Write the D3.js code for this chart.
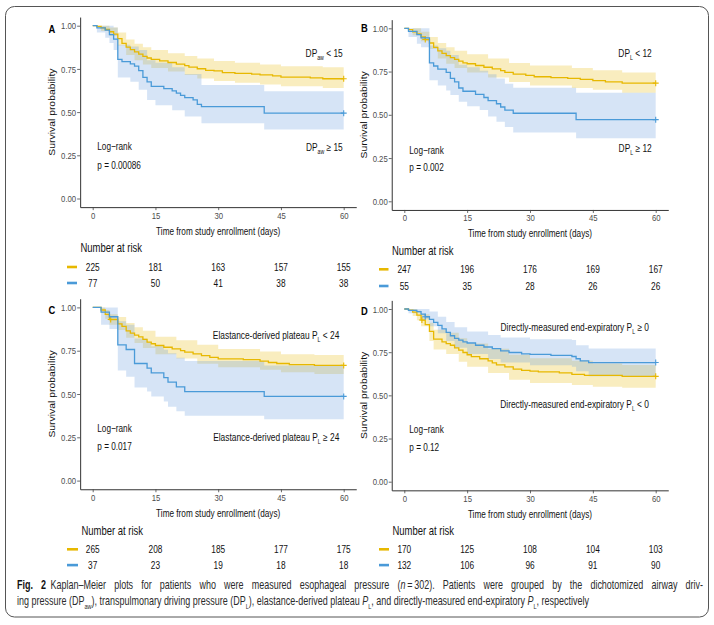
<!DOCTYPE html>
<html><head><meta charset="utf-8">
<script src="https://cdn.jsdelivr.net/npm/d3@7"></script>
<style>body{margin:0;background:#fff} svg{display:block} text{white-space:pre}</style>
</head><body>
<svg id="c" width="714" height="625"></svg>
<script>
// ---------------- DATA ----------------
const timeTicks = [0, 15, 30, 45, 60];
const survTicks = [0, 0.25, 0.5, 0.75, 1];
const survTickLabels = ["0.00", "0.25", "0.50", "0.75", "1.00"];

// Panel A : DPaw < 15 (yellow) / DPaw >= 15 (blue)
const survA1 = [[0,1],[1,0.996],[2,0.987],[3,0.978],[4,0.965],[5,0.951],[6,0.925],[7,0.898],[8,0.876],[9,0.862],[10,0.849],[11,0.836],[12,0.822],[13,0.813],[14,0.805],[16,0.796],[18,0.787],[20,0.778],[22,0.769],[23,0.76],[25,0.751],[27,0.742],[29,0.738],[31,0.729],[34,0.724],[38,0.72],[40,0.715],[43,0.71],[45,0.702],[52,0.698],[55,0.693],[60,0.693]];
const ciA1 = [[0,1,1],[2,0.97,1],[4,0.94,0.99],[6,0.885,0.96],[8,0.83,0.92],[10,0.80,0.895],[12,0.775,0.875],[14,0.755,0.86],[18,0.735,0.84],[22,0.715,0.825],[25,0.695,0.81],[29,0.68,0.795],[34,0.67,0.785],[40,0.66,0.775],[45,0.65,0.765],[55,0.64,0.76],[60,0.64,0.76]];
const survA2 = [[0,1],[1,0.987],[3,0.974],[4,0.948],[5,0.922],[6,0.805],[7,0.792],[9,0.779],[10,0.766],[11,0.74],[12,0.701],[13,0.675],[14,0.649],[17,0.636],[19,0.623],[20,0.61],[21,0.597],[22,0.584],[24,0.571],[25,0.545],[26,0.532],[41,0.494],[60,0.494]];
const ciA2 = [[0,1,1],[1,0.96,1],[3,0.93,1],[4,0.90,1],[5,0.86,0.99],[6,0.70,0.89],[9,0.675,0.88],[11,0.63,0.86],[13,0.57,0.80],[15,0.54,0.785],[19,0.51,0.76],[22,0.475,0.72],[26,0.435,0.657],[41,0.40,0.62],[60,0.40,0.62]];
const censorA1 = [60], censorA2 = [60];
const riskA1 = [225, 181, 163, 157, 155];
const riskA2 = [77, 50, 41, 38, 38];

// Panel B : DPL < 12 / DPL >= 12
const survB1 = [[0,1],[1,0.992],[2,0.98],[3,0.968],[4,0.951],[5,0.935],[6,0.915],[7,0.89],[8,0.87],[9,0.855],[10,0.842],[11,0.83],[12,0.82],[13,0.81],[14,0.80],[15,0.795],[17,0.785],[19,0.775],[21,0.765],[23,0.755],[24,0.745],[26,0.735],[29,0.728],[31,0.72],[35,0.715],[39,0.71],[42,0.705],[45,0.698],[48,0.69],[52,0.683],[60,0.683]];
const ciB1 = [[0,1,1],[2,0.96,1],[4,0.925,0.98],[6,0.88,0.95],[8,0.825,0.915],[10,0.795,0.89],[12,0.77,0.87],[15,0.745,0.85],[20,0.715,0.825],[25,0.69,0.80],[30,0.67,0.785],[40,0.655,0.77],[45,0.645,0.757],[52,0.628,0.745],[60,0.628,0.745]];
const survB2 = [[0,1],[1,0.982],[3,0.964],[4,0.945],[6,0.80],[7,0.782],[8,0.764],[10,0.745],[11,0.71],[12,0.69],[13,0.655],[14,0.636],[17,0.618],[19,0.60],[20,0.582],[22,0.564],[23,0.545],[24,0.527],[26,0.509],[41,0.472],[60,0.472]];
const ciB2 = [[0,1,1],[1,0.95,1],[3,0.91,1],[4,0.89,1],[6,0.70,0.90],[8,0.67,0.885],[10,0.64,0.87],[11,0.615,0.845],[13,0.576,0.79],[15,0.55,0.775],[18,0.528,0.755],[20,0.49,0.735],[22,0.46,0.71],[24,0.43,0.68],[26,0.397,0.657],[41,0.364,0.628],[60,0.364,0.628]];
const censorB1 = [5, 60], censorB2 = [60];
const riskB1 = [247, 196, 176, 169, 167];
const riskB2 = [55, 35, 28, 26, 26];

// Panel C : Elastance-derived plateau PL < 24 / >= 24
const survC1 = [[0,1],[2,0.985],[3,0.96],[4,0.93],[6,0.905],[7,0.89],[8,0.865],[9,0.852],[10,0.84],[11,0.83],[12,0.815],[13,0.80],[14,0.79],[15,0.78],[17,0.77],[19,0.76],[21,0.75],[22,0.742],[24,0.732],[26,0.722],[28,0.712],[30,0.703],[36,0.698],[40,0.69],[42,0.682],[44,0.676],[47,0.67],[53,0.665],[60,0.665]];
const ciC1 = [[0,1,1],[2,0.97,1],[3,0.935,0.985],[4,0.90,0.96],[6,0.87,0.945],[8,0.825,0.91],[10,0.795,0.885],[12,0.765,0.865],[15,0.73,0.83],[20,0.705,0.81],[25,0.675,0.785],[30,0.655,0.76],[40,0.64,0.745],[45,0.625,0.73],[53,0.615,0.725],[60,0.615,0.725]];
const survC2 = [[0,1],[2,0.973],[4,0.946],[6,0.784],[8,0.757],[10,0.676],[13,0.649],[14,0.622],[17,0.595],[18,0.568],[20,0.541],[22,0.514],[41,0.486],[60,0.486]];
const ciC2 = [[0,1,1],[2,0.90,1],[4,0.875,1],[6,0.635,0.92],[8,0.60,0.90],[10,0.538,0.82],[13,0.515,0.80],[14,0.485,0.775],[17,0.456,0.755],[18,0.427,0.735],[20,0.40,0.71],[22,0.375,0.69],[41,0.354,0.665],[60,0.354,0.665]];
const censorC1 = [4.3, 60], censorC2 = [60];
const riskC1 = [265, 208, 185, 177, 175];
const riskC2 = [37, 23, 19, 18, 18];

// Panel D : directly-measured end-expiratory PL < 0 (yellow) / >= 0 (blue)
const survD1 = [[0,1],[1,0.994],[2,0.982],[3,0.965],[4,0.936],[5,0.91],[6,0.87],[7,0.825],[9,0.81],[10,0.80],[11,0.79],[12,0.775],[13,0.762],[14,0.748],[15,0.735],[16,0.724],[18,0.712],[20,0.70],[21,0.688],[22,0.676],[24,0.665],[26,0.652],[28,0.645],[30,0.64],[32,0.636],[37,0.63],[40,0.622],[43,0.616],[52,0.61],[60,0.61]];
const ciD1 = [[0,1,1],[2,0.96,1],[3,0.935,0.99],[4,0.90,0.97],[6,0.815,0.92],[7,0.765,0.88],[10,0.74,0.862],[13,0.695,0.83],[15,0.665,0.80],[20,0.63,0.77],[25,0.59,0.735],[30,0.572,0.715],[40,0.56,0.70],[45,0.55,0.685],[52,0.544,0.676],[60,0.544,0.676]];
const survD2 = [[0,1],[1,0.992],[3,0.985],[4,0.97],[5,0.955],[6,0.94],[7,0.922],[8,0.905],[9,0.885],[10,0.865],[11,0.845],[12,0.83],[13,0.82],[14,0.81],[15,0.803],[17,0.79],[19,0.78],[21,0.77],[23,0.757],[25,0.748],[28,0.74],[30,0.737],[35,0.732],[40,0.725],[41,0.712],[42,0.70],[44,0.69],[60,0.69]];
const ciD2 = [[0,1,1],[1,0.975,1],[4,0.94,1],[6,0.90,0.985],[8,0.86,0.955],[10,0.815,0.925],[12,0.775,0.895],[15,0.74,0.87],[20,0.71,0.85],[23,0.69,0.835],[30,0.675,0.825],[40,0.665,0.82],[41,0.64,0.79],[44,0.61,0.772],[60,0.61,0.772]];
const censorD1 = [4.2, 60], censorD2 = [5, 60];
const riskD1 = [170, 125, 108, 104, 103];
const riskD2 = [132, 106, 96, 91, 90];

const pValues = ["p = 0.00086", "p = 0.002", "p = 0.017", "p = 0.12"];
const panelLetters = ["A", "B", "C", "D"];

// ---------------- STYLE / LAYOUT ----------------
const SX = 0.79;
const FONT = "'Liberation Sans', Arial, Helvetica, sans-serif";
const YEL = "#E7B800", BLU = "#4A9AD8";
const YEL_BAND = "#E7B800", BLU_BAND = "#6A9EE0";
const svg = d3.select("#c");

function rich(g, x, y, anchor, size, parts, o = {}) {
  const sx = o.sx ?? SX;
  const t = g.append("text")
    .attr("transform", `translate(${x},${y}) scale(${sx},1)` + (o.rot ? ` rotate(${o.rot})` : ""))
    .attr("text-anchor", anchor).attr("font-family", o.family || FONT)
    .attr("font-size", size).attr("fill", o.fill || "#111");
  if (o.weight) t.attr("font-weight", o.weight);
  let shift = 0;
  parts.forEach(p => {
    const q = typeof p === "string" ? { t: p } : p;
    const s = t.append("tspan").text(q.t);
    const target = q.sub ? size * 0.32 : 0;
    if (target !== shift) { s.attr("dy", target - shift); shift = target; }
    if (q.sub) s.attr("font-size", size * 0.62);
    if (q.it) s.attr("font-style", "italic");
    if (q.b) s.attr("font-weight", "bold").attr("fill", "#111");
  });
  return t;
}

const panels = [
  { surv1: survA1, ci1: ciA1, surv2: survA2, ci2: ciA2, c1: censorA1, c2: censorA2, r1: riskA1, r2: riskA2,
    x0: 92.7, x60: 343.7, y1: 25.7, y0: 198.5, letter: [48.5, 32.7], ytitle: 55, xtitle: 234.5,
    riskTitle: 251.5, rows: [270.5, 286.5], dash: [67, 77],
    hiLab: ["DP", { t: "aw", sub: 1 }, " < 15"], loLab: ["DP", { t: "aw", sub: 1 }, " \u2265 15"],
    hiY: 56.5, loY: 150.5, annX: 342.7, lrX: 97.3, lrY: 150, pY: 168.5 },
  { surv1: survB1, ci1: ciB1, surv2: survB2, ci2: ciB2, c1: censorB1, c2: censorB2, r1: riskB1, r2: riskB2,
    x0: 404.3, x60: 655.7, y1: 28.3, y0: 201.3, letter: [361, 32.3], ytitle: 366.5, xtitle: 236.5,
    riskTitle: 255.3, rows: [272.8, 289.5], dash: [379, 388.5],
    hiLab: ["DP", { t: "L", sub: 1 }, " < 12"], loLab: ["DP", { t: "L", sub: 1 }, " \u2265 12"],
    hiY: 56.5, loY: 152, annX: 651.7, lrX: 409.3, lrY: 153.5, pY: 170.5 },
  { surv1: survC1, ci1: ciC1, surv2: survC2, ci2: ciC2, c1: censorC1, c2: censorC2, r1: riskC1, r2: riskC2,
    x0: 92.7, x60: 343.7, y1: 307.4, y0: 480.6, letter: [48.5, 314.3], ytitle: 55, xtitle: 516.5,
    riskTitle: 534.8, rows: [552.8, 568.6], dash: [67, 78],
    hiLab: ["Elastance-derived plateau P", { t: "L", sub: 1 }, " < 24"], loLab: ["Elastance-derived plateau P", { t: "L", sub: 1 }, " \u2265 24"],
    hiY: 338.8, loY: 441, annX: 339.3, lrX: 97.3, lrY: 432, pY: 449.5 },
  { surv1: survD1, ci1: ciD1, surv2: survD2, ci2: ciD2, c1: censorD1, c2: censorD2, r1: riskD1, r2: riskD2,
    x0: 404.3, x60: 655.7, y1: 309, y0: 481.7, letter: [361, 315], ytitle: 366.5, xtitle: 517.5,
    riskTitle: 534.8, rows: [552.8, 568.6], dash: [379, 389],
    hiLab: ["Directly-measured end-expiratory P", { t: "L", sub: 1 }, " \u2265 0"], loLab: ["Directly-measured end-expiratory P", { t: "L", sub: 1 }, " < 0"],
    hiY: 330.5, loY: 408, annX: 649, lrX: 409.3, lrY: 433, pY: 450.5 }
];

function survAt(s, t) { let v = s[0][1]; for (const d of s) { if (d[0] <= t) v = d[1]; } return v; }

panels.forEach((p, i) => {
  const k = (p.x60 - p.x0) / 60;
  const xs = d3.scaleLinear().domain([-3, 63]).range([p.x0 - 3 * k, p.x60 + 3 * k]);
  const h = p.y0 - p.y1;
  const ys = d3.scaleLinear().domain([-0.05, 1.05]).range([p.y0 + 0.05 * h, p.y1 - 0.05 * h]);
  const g = svg.append("g");

  const area = d3.area().curve(d3.curveStepAfter).x(d => xs(d[0])).y0(d => ys(d[1])).y1(d => ys(d[2]));
  g.append("path").attr("d", area(p.ci1)).attr("fill", YEL_BAND).attr("fill-opacity", 0.25);
  g.append("path").attr("d", area(p.ci2)).attr("fill", BLU_BAND).attr("fill-opacity", 0.28);

  const line = d3.line().curve(d3.curveStepAfter).x(d => xs(d[0])).y(d => ys(d[1]));
  [[p.surv1, YEL, p.c1], [p.surv2, BLU, p.c2]].forEach(([s, col, cens]) => {
    g.append("path").attr("d", line(s)).attr("fill", "none").attr("stroke", col).attr("stroke-width", 1.3);
    cens.forEach(t => {
      const cx = xs(t), cy = ys(survAt(s, t));
      g.append("path").attr("d", `M${cx - 3},${cy}H${cx + 3}M${cx},${cy - 3}V${cy + 3}`)
        .attr("stroke", col).attr("stroke-width", 1.1);
    });
  });

  // axes
  const xa = g.append("g").attr("transform", `translate(0,${ys(-0.05)})`)
    .call(d3.axisBottom(xs).tickValues(timeTicks).tickSize(3).tickSizeOuter(0).tickPadding(1.5));
  const ya = g.append("g").attr("transform", `translate(${xs(-3)},0)`)
    .call(d3.axisLeft(ys).tickValues(survTicks).tickFormat((d, j) => survTickLabels[j]).tickSize(3).tickSizeOuter(0).tickPadding(1));
  [xa, ya].forEach(a => {
    a.select(".domain").attr("stroke", "#333").attr("stroke-width", 1);
    a.selectAll(".tick line").attr("stroke", "#444").attr("stroke-width", 0.8);
    a.selectAll(".tick text").attr("font-family", FONT).attr("font-size", 9.8).attr("fill", "#4d4d4d");
  });
  xa.selectAll(".tick text").attr("transform", `scale(${SX},1)`);
  ya.selectAll(".tick text").attr("x", -4 / SX).attr("transform", `scale(${SX},1)`);

  // titles
  rich(g, (xs(0) + xs(60)) / 2, p.xtitle, "middle", 10.4, ["Time from study enrollment (days)"]);
  rich(g, p.ytitle, (ys(0) + ys(1)) / 2, "middle", 10.4, ["Survival probability"], { rot: -90 });
  rich(g, p.letter[0], p.letter[1], "start", 11, [panelLetters[i]], { weight: "bold", fill: "#000", sx: 0.85 });

  // annotations
  rich(g, p.annX, p.hiY, "end", 10.6, p.hiLab);
  rich(g, p.annX, p.loY, "end", 10.6, p.loLab);
  rich(g, p.lrX, p.lrY, "start", 10.4, ["Log\u2212rank"]);
  rich(g, p.lrX, p.pY, "start", 10.4, [pValues[i]]);

  // risk table
  rich(g, p.dash[1] + 3.5, p.riskTitle, "start", 12, ["Number at risk"]);
  [[p.r1, YEL], [p.r2, BLU]].forEach(([r, col], j) => {
    const ry = p.rows[j];
    g.append("line").attr("x1", p.dash[0]).attr("x2", p.dash[1]).attr("y1", ry - 3.5).attr("y2", ry - 3.5)
      .attr("stroke", col).attr("stroke-width", 2.6);
    timeTicks.forEach((t, m) => rich(g, xs(t), ry, "middle", 10.5, [String(r[m])]));
  });
});

// caption: line 2 sets the natural width, line 1 is justified (word spacing) to the full measure
const cap = svg.append("g");
const cap1Parts = [{ t: "Fig. 2", b: 1 }, "\u2002Kaplan\u2013Meier plots for patients who were measured esophageal pressure (", { t: "n", it: 1 }, "\u2009=\u2009302). Patients were grouped by the dichotomized airway driv-"];
const cap1 = rich(cap, 17, 589, "start", 12.6, cap1Parts, { sx: 1, fill: "#2b2b2b" });
const cap2 = rich(cap, 17, 605, "start", 12.6, ["ing pressure (DP", { t: "aw", sub: 1 }, "), transpulmonary driving pressure (DP", { t: "L", sub: 1 }, "), elastance-derived plateau ", { t: "P", it: 1 }, { t: "L", sub: 1 }, ", and directly-measured end-expiratory ", { t: "P", it: 1 }, { t: "L", sub: 1 }, ", respectively"], { sx: 1, fill: "#2b2b2b" });
const capScale = 572 / cap2.node().getComputedTextLength();
const len1 = cap1.node().getComputedTextLength();
const nSpaces = cap1Parts.map(p => typeof p === "string" ? p : p.t).join("").split(" ").length - 1;
cap1.attr("transform", `translate(17,589) scale(${capScale},1)`)
  .attr("word-spacing", Math.max(0, (686 / capScale - len1) / nSpaces));
cap2.attr("transform", `translate(17,605) scale(${capScale},1)`);

// frame
svg.append("rect").attr("x", 5.5).attr("y", 6.5).attr("width", 703).attr("height", 610.5).attr("rx", 9)
  .attr("fill", "none").attr("stroke", "#555").attr("stroke-width", 1);
</script>
</body></html>
